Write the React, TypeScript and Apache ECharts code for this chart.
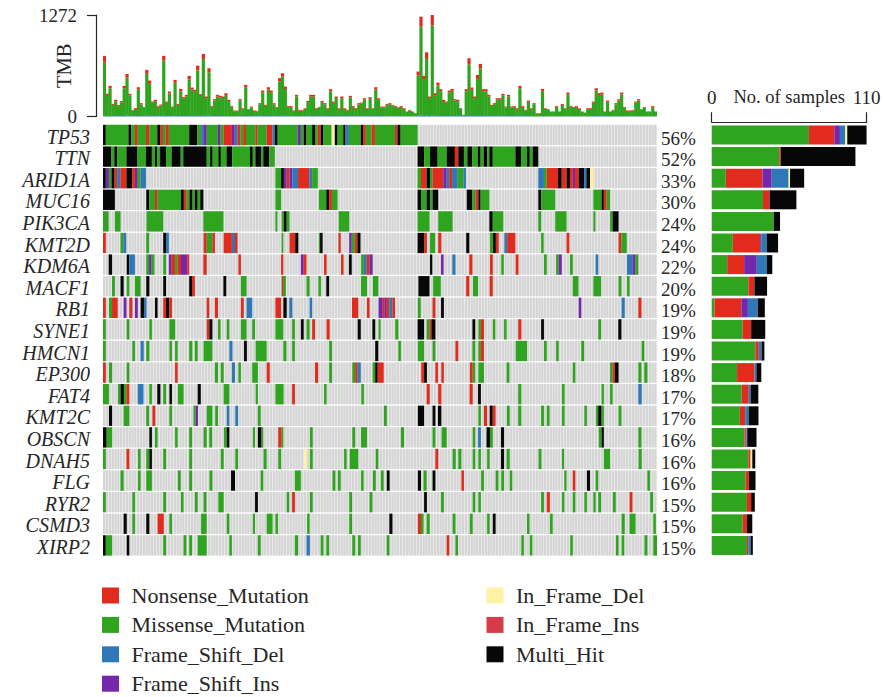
import React, { useEffect, useRef } from "react";
import * as echarts from "echarts";

const SERIF = '"Liberation Serif", "DejaVu Serif", serif';
const INK = "#262626";

const mutationTypes = ["Nonsense_Mutation", "Missense_Mutation", "Frame_Shift_Del", "Frame_Shift_Ins", "In_Frame_Del", "In_Frame_Ins", "Multi_Hit"];
const mutationColors = ["#e02b1d", "#2fa51f", "#2f78b7", "#7527ab", "#fff2a6", "#d53b4b", "#070707"];
const N = 0, M = 1, D = 2, I = 3, Y = 4, J = 5, K = 6;

const genes = ["TP53", "TTN", "ARID1A", "MUC16", "PIK3CA", "KMT2D", "KDM6A", "MACF1", "RB1", "SYNE1", "HMCN1", "EP300", "FAT4", "KMT2C", "OBSCN", "DNAH5", "FLG", "RYR2", "CSMD3", "XIRP2"];
const percents = ["56%", "52%", "33%", "30%", "24%", "24%", "22%", "20%", "19%", "19%", "19%", "18%", "17%", "17%", "16%", "16%", "16%", "15%", "15%", "15%"];
const sampleCount = 196;

const tmbTotal = [
  759, 284, 384, 158, 209, 142, 192, 384, 534, 284, 83, 104, 367, 167, 117, 584, 450, 188, 209, 133,
  150, 759, 188, 313, 125, 459, 158, 346, 242, 271, 509, 363, 334, 638, 279, 784, 250, 605, 133, 217,
  271, 259, 250, 292, 209, 133, 75, 75, 217, 104, 396, 92, 125, 75, 71, 167, 325, 146, 367, 325,
  167, 117, 480, 542, 375, 133, 133, 75, 271, 83, 83, 104, 196, 271, 271, 104, 117, 196, 167, 104,
  342, 188, 250, 104, 250, 104, 83, 259, 133, 104, 167, 175, 229, 104, 242, 104, 367, 229, 125, 125,
  158, 167, 146, 133, 117, 133, 104, 63, 83, 63, 42, 563, 1251, 509, 805, 250, 1272, 292, 425, 342,
  209, 188, 325, 346, 217, 209, 104, 21, 342, 730, 363, 250, 521, 659, 342, 342, 271, 146, 167, 229,
  229, 284, 125, 271, 125, 133, 104, 384, 133, 83, 200, 104, 167, 42, 42, 346, 104, 92, 63, 63,
  133, 63, 158, 104, 300, 133, 117, 133, 104, 63, 50, 104, 104, 188, 354, 292, 300, 63, 200, 63,
  83, 167, 217, 300, 117, 75, 75, 83, 188, 217, 92, 117, 63, 63, 133, 63,
];
const tmbNonsense = [
  85, 25, 30, 12, 16, 12, 14, 30, 48, 20, 8, 10, 30, 14, 10, 50, 40, 14, 16, 10,
  12, 60, 14, 24, 10, 36, 12, 28, 18, 20, 44, 26, 24, 60, 20, 65, 20, 50, 10, 16,
  20, 20, 18, 22, 16, 10, 8, 8, 16, 8, 34, 8, 10, 6, 6, 14, 26, 12, 30, 26,
  14, 10, 40, 42, 30, 10, 10, 6, 20, 6, 8, 8, 16, 22, 20, 8, 10, 16, 14, 8,
  28, 14, 20, 8, 20, 8, 6, 20, 10, 8, 14, 14, 18, 8, 20, 8, 30, 18,
  10, 10, 12, 12, 10, 10, 8, 10, 8, 5,
  6, 5, 4, 50, 125, 40, 85, 20, 130, 24,
  36, 24, 16, 14, 24, 26, 16, 16, 8, 3,
  26, 75, 28, 20, 50, 58, 26, 26, 20, 12,
  12, 18, 18, 22, 10, 20, 10, 10, 8, 30,
  10, 6, 16, 8, 12, 4, 4, 28, 8, 8,
  5, 5, 10, 5, 12, 8, 22, 10, 10, 10,
  8, 5, 4, 8, 8, 14, 28, 22, 24, 5,
  16, 5, 6, 14, 18, 24, 10, 6, 6, 6,
  14, 18, 8, 10, 5, 5, 10, 5,
];
const tmbFrameShift = [
  8, 5, 6, 4, 5, 4, 5, 7, 8, 5, 3, 4, 6, 4, 4, 8, 7, 4, 5, 4,
  4, 8, 5, 5, 4, 7, 4, 6, 5, 5, 7, 6, 6, 8, 5, 8, 5, 8, 4, 5,
  5, 5, 5, 5, 5, 4, 3, 3, 5, 4, 6, 3, 4, 3, 3, 4, 6, 4, 6, 6,
  4, 4, 7, 8, 6, 4, 4, 3, 5, 3, 3, 4, 5, 5, 5, 4, 4, 5, 4, 4,
  6, 5, 5, 4, 5, 4, 3, 5, 4, 4, 4, 4, 5, 4, 5, 4, 6, 5, 4, 4,
  4, 4, 4, 4, 4, 4, 4, 3, 3, 3, 2, 8, 10, 7, 9, 5, 10, 5, 7, 6,
  5, 5, 6, 6, 5, 5, 4, 2, 6, 8, 6, 5, 7, 8, 6, 6, 5, 4, 4, 5,
  5, 5, 4, 5, 4, 4, 4, 6, 4, 3, 5, 4, 4, 2, 2, 6, 4, 3, 3, 3,
  4, 3, 4, 4, 5, 4, 4, 4, 4, 3, 2, 4, 4, 5, 6, 5, 5, 3, 5, 3,
  3, 4, 5, 5, 4, 3, 3, 3, 5, 5, 3, 4, 3, 3, 4, 3,
];

// [first sample, end sample, mutation type] per gene
const tp53 = [[0,1,K],[1,9,M],[9,10,K],[10,11.3,M],[11.3,12.3,N],[12.3,15.2,M],[15.2,16.4,N],[16.4,19.2,M],[19.2,20.3,K],[20.3,21.2,N],[21.2,22.2,M],[22.2,23.3,N],[23.3,30.5,M],[30.5,33.4,K],[33.4,34.7,M],[34.7,35.5,D],[35.5,36.7,I],[36.7,40.6,M],[40.6,41.6,I],[41.6,42.7,M],[42.7,45.6,N],[45.6,46.6,I],[46.6,47.6,D],[47.6,48.6,N],[48.6,49.6,M],[49.6,50.6,N],[50.6,53.9,M],[53.9,54.7,N],[54.7,57.9,M],[57.9,59.9,N],[59.9,60.8,D],[60.8,61.8,K],[61.8,68.9,M],[68.9,70,I],[70,71,M],[71,72,K],[72,74,M],[74,75,K],[75,76,M],[76,77,N],[77,78,K],[78,80.9,M],[80.9,82,Y],[82,83,K],[83,85,M],[85,85.8,K],[85.8,87,D],[87,91.2,M],[91.2,92,K],[92,93,N],[93,95,M],[95,96.2,N],[96.2,103.3,M],[103.3,104.2,N],[104.2,105.3,K],[105.3,111.3,M]];
const ttn = [[0,3,K],[3,4,M],[4,5,K],[5,8.3,M],[8.3,12.2,K],[12.2,15.2,M],[15.2,17.3,K],[17.3,18.4,M],[18.4,19.2,K],[19.2,20.2,M],[20.2,22.3,K],[22.3,24.3,M],[24.3,27.5,K],[27.5,28.4,M],[28.4,36.7,K],[36.7,37.9,M],[37.9,38.8,K],[38.8,40.8,M],[40.8,41.7,K],[41.7,43.7,M],[43.7,45.7,K],[45.7,52,M],[52,53,K],[53,53.9,M],[53.9,55.9,K],[55.9,56.7,M],[56.7,58.8,K],[58.8,60.8,M],[111.3,113.6,K],[113.6,115.7,M],[115.7,118.4,K],[118.4,121.6,M],[121.6,124.5,K],[124.5,125.7,N],[125.7,127.7,K],[127.7,128.9,M],[128.9,130.7,K],[130.7,132.6,M],[132.6,133.6,K],[133.6,134.7,M],[134.7,136,K],[136,136.7,M],[136.7,137.9,K],[137.9,145.9,M],[145.9,147.9,K],[147.9,150,M],[150,151,K],[151,152,M],[152,154,K]];
const arid1a = [[0,1,K],[1,2.1,I],[2.1,3,M],[3,4.1,K],[4.1,5,N],[5,6.2,D],[6.2,8.3,N],[8.3,10.3,K],[10.3,11.3,N],[11.3,12.3,I],[12.3,13.3,M],[13.3,15.2,D],[61,63,M],[63,64,K],[64,65,I],[65,66,N],[66,67,I],[67,69,D],[69,73,N],[73,74,D],[74,76,M],[111.3,112.5,M],[112.5,114.5,N],[114.5,115.7,K],[115.7,116.6,M],[116.6,120.4,N],[120.4,121.6,I],[121.6,122.5,D],[122.5,123.5,N],[123.5,125.5,D],[125.5,127.5,M],[127.5,128.4,D],[154,156,D],[156,157,M],[157,161,N],[161,162.3,K],[162.3,164,N],[164,165.2,K],[165.2,166.2,N],[166.2,167,I],[167,168.3,N],[168.3,170.2,K],[170.2,171,D],[171,172.3,K],[172.3,173.5,Y]];
const muc16 = [[0,4.2,K],[15.3,16.4,K],[16.4,18.4,M],[18.4,19.3,N],[19.3,27.6,M],[27.6,28.6,K],[28.6,29.6,N],[29.6,30.6,M],[30.6,31.7,K],[31.7,32.5,M],[32.5,33.5,K],[33.5,34.4,M],[34.4,35.5,K],[61,63,M],[76.4,79,M],[79,80,K],[80,81,N],[81,83,M],[111.3,112.5,K],[112.5,114.5,M],[114.5,115.7,K],[115.7,116.6,M],[116.6,118.6,K],[128.7,130.7,K],[130.7,131.8,M],[131.8,132.8,N],[132.8,133.6,K],[133.6,136.7,M],[154,155,K],[155,160,M],[173.5,176.4,M],[176.4,177.2,K],[177.2,178.2,N],[178.2,179.4,M]];
const pik3ca = [[0,2,M],[4.2,6.2,M],[15.4,21.3,M],[35.5,42.6,M],[61,61.7,M],[63.2,64,M],[64,65,K],[65,66,M],[83.4,87.1,M],[111.3,115.5,M],[118.6,123.7,M],[136.7,137.9,K],[137.9,141.6,M],[154,155,M],[160,164,M],[173.5,174.2,M],[179.4,180.3,M],[180.3,182.4,K]];
const kmt2d = [[0,1,N],[6.2,7.2,M],[7.2,8.2,D],[15.3,16.3,M],[21.3,22.3,K],[22.3,23.3,D],[35.6,36.7,N],[36.7,38.7,M],[38.7,39.6,N],[42.7,45.6,N],[45.6,46.7,D],[46.7,47.6,N],[63.2,63.8,M],[66,68,N],[68,69.1,K],[76.4,76.8,M],[76.8,77.7,K],[83.3,84.1,N],[87.1,88,I],[88,89.1,M],[89.1,90,N],[90,91.1,K],[111.3,113.6,K],[113.6,114.6,N],[115.7,117.5,M],[118.6,119.7,N],[128.5,129.6,K],[136.9,138,M],[138,139,K],[139,140,N],[142,143,D],[143,145.9,N],[155,155.9,M],[164,165,N],[182.4,183.4,N],[183.4,185.3,M]];
const kdm6a = [[2,3.2,K],[8.4,9.3,K],[9.3,11.3,D],[15.3,16.3,M],[16.3,17.2,I],[17.2,18.2,M],[21.3,22.3,M],[23.3,24.3,I],[24.3,25.5,N],[25.5,26.4,M],[26.4,27.6,N],[27.6,29.8,I],[29.8,30.5,N],[35.5,36.7,N],[47.9,48.8,N],[63,63.8,N],[70,71,I],[71,72,N],[78.2,79.1,N],[84.2,85.1,N],[87,88,K],[91.3,92.3,M],[92.3,93.3,D],[93.3,94.3,N],[94.3,95.4,I],[115.7,116.5,K],[119.6,120.5,I],[123.6,124.7,D],[129.6,130.7,N],[136.9,137.9,N],[140.9,141.8,M],[146,147,N],[156,157,M],[160.3,161.2,M],[161.2,162.3,I],[165.2,166.2,M],[174.3,175.2,D],[185.4,187.4,D],[187.4,188.4,I],[188.4,189.4,M]];
const macf1 = [[3.2,4.2,M],[6.2,7.3,K],[8.4,9.3,M],[11.3,13.3,M],[15.3,16.4,K],[21.3,22.3,K],[30.5,31.5,K],[31.5,32.5,N],[42.6,43.6,K],[48.8,50.8,M],[63.2,63.7,N],[63.7,64.7,M],[72,73.1,M],[76.2,77.1,M],[79,80,K],[91.3,93.4,M],[95.5,97.4,M],[111.6,115.5,K],[116.8,119.5,M],[128.5,129.6,N],[130.9,132.7,M],[136.8,137.9,N],[166.2,168.2,M],[173.5,176.2,M],[182.4,183.4,M],[185.4,186.3,M]];
const rb1 = [[0,1,N],[2.1,3.2,M],[3.2,5.2,N],[7.3,8.3,I],[9.3,10.4,N],[11.3,12.3,I],[13.3,14.5,K],[14.5,15.4,D],[18.4,19.3,K],[21.3,22.3,N],[22.3,23.5,K],[23.5,24.4,N],[36.7,37.6,N],[39.6,40.7,N],[48.8,49.8,N],[50.8,52.8,D],[61,63,N],[63.8,65,K],[65.9,67,D],[73.1,74,D],[88.1,90.3,N],[93.4,94.3,N],[97.5,99,I],[99,99.7,N],[99.7,100.4,I],[100.4,101.3,N],[101.3,102.4,D],[102.4,103.3,N],[111.4,112.4,M],[116.6,117.6,N],[119.6,120.6,K],[168.3,169.2,I],[183.5,184.6,D],[189.4,190.5,N]];
const syne1 = [[0,1,M],[8.4,9.3,M],[16.4,17.3,M],[23.5,25.5,M],[36.7,37.6,N],[37.6,38.7,K],[40.7,41.6,M],[43.8,44.7,M],[48.8,50.8,M],[52.8,53.8,M],[61,63.8,M],[66.9,67.9,M],[70,71,K],[72,73.1,M],[74,75,N],[79.1,80.2,N],[90.1,91.2,K],[95.3,96.3,K],[97.5,98.2,M],[103.4,104.5,M],[111.3,113.6,K],[114.5,115.5,M],[115.5,116.2,N],[116.2,117.6,K],[130.7,131.7,K],[132.8,133.7,M],[133.7,134.8,N],[137.9,138.8,M],[141.9,142.8,M],[146.9,148,N],[155,156,K],[175.2,176.2,M],[182.3,183.4,K]];
const hmcn1 = [[0,1,M],[10.4,11.3,M],[13.3,14.4,D],[15.3,16.4,M],[23.5,24.4,M],[25.5,26.4,M],[30.5,31.6,M],[32.5,33.5,M],[35.6,38.7,M],[44.7,45.8,D],[49.9,50.9,K],[54,57.9,M],[63.8,64.9,M],[66.9,67.9,M],[80,81,M],[96.3,97.4,K],[104.5,105.4,M],[111.4,113.6,M],[116.6,117.6,M],[124.7,125.7,N],[130.7,131.7,M],[132.8,133.7,M],[133.7,134.8,N],[146,150,M],[156,157,M],[160.3,161.2,M],[169.2,170.2,M],[190.6,191.5,M]];
const ep300 = [[0,1,N],[2.1,3.2,M],[8.4,9.3,M],[25.5,26.4,N],[39.6,40.7,M],[41.7,42.7,M],[45.6,46.7,D],[47.9,48.8,M],[52.8,54.8,M],[57.9,59,N],[75,76.1,N],[80,81,M],[88.2,89.2,M],[89.2,90.1,N],[90.1,91.2,D],[95.4,96.3,M],[96.3,97.2,K],[97.2,99.3,N],[112.6,113.6,N],[113.6,114.6,K],[117.6,118.5,N],[119.7,120.6,N],[129.8,130.8,N],[130.8,131.7,M],[132.8,134.8,M],[142.8,143.8,M],[166.2,167.1,M],[179.4,180.3,M],[180.3,181.1,N],[181.1,182.4,K],[189.4,190.5,M],[191.5,192.6,M]];
const fat4 = [[0,2.1,M],[5.3,6.2,M],[6.2,7.4,K],[7.4,8.3,M],[8.3,9.3,N],[12.3,14.3,D],[16.4,17.3,M],[19.2,20.3,K],[21.3,22.3,M],[23.5,24.4,K],[26.5,28.5,M],[33.5,34.6,K],[42.7,44.7,M],[54,54.8,M],[61,63.9,M],[66.9,67.9,N],[78.2,79.1,M],[91.4,92.3,M],[114.5,115.6,N],[118.6,119.7,N],[129.7,130.8,N],[132.7,133.7,K],[146.9,148,M],[162.4,163.3,M],[176.4,177.2,M],[179.4,180.3,M],[189.4,190.6,D]];
const kmt2c = [[2.1,3.2,K],[7.3,9.3,M],[15.3,16.3,M],[17.5,18.5,N],[23.5,24.4,M],[32,32.8,M],[32.8,33.6,I],[36.7,38.7,M],[39.7,40.7,M],[43.8,44.7,D],[46.8,47.8,D],[54.8,55.8,M],[99.4,100.4,M],[111.4,113.6,K],[116.6,117.6,K],[118.5,119.7,K],[132.8,133.7,M],[134.8,135.9,N],[136.8,137.9,K],[137.9,138.9,N],[142.9,143.9,M],[146.9,148,M],[155,156,M],[157,158,M],[162.4,163.3,M],[170.3,171.2,M],[174.4,175.2,M],[175.2,176.4,K],[176.4,177.2,M],[182.4,183.4,M]];
const obscn = [[0,1.3,K],[1.3,3.2,M],[16.4,17.3,K],[18.4,19.3,M],[25.5,26.4,M],[30.5,31.5,M],[35.6,36.7,M],[37.6,38.6,M],[42.8,43.8,M],[43.8,44.7,K],[53,53.8,M],[54.8,56.1,K],[56.1,56.7,M],[62,63.2,N],[63.2,63.8,M],[73.2,74.2,M],[88.2,89.2,M],[91.3,93.4,M],[105.4,106.5,M],[116.6,117.6,M],[119.8,121.6,M],[130.8,131.7,M],[132.7,133.7,D],[135.7,136.9,K],[136.9,137.9,M],[140.8,141.9,K],[175.4,176.4,M],[176.4,177.2,K],[189.4,190.5,M]];
const dnah5 = [[0,1,M],[8.3,9.3,N],[12.4,13.3,M],[15.3,16.4,M],[16.4,17.3,K],[21.3,22.3,M],[30.5,31.5,M],[41.7,42.7,M],[46.8,47.8,M],[56.8,57.9,M],[62,63,M],[71.1,72.2,Y],[73.2,74.2,M],[85.3,86.2,M],[87.3,90.3,M],[96.5,97.4,M],[117.6,118.6,N],[123.7,124.8,M],[125.7,126.8,M],[130.8,131.7,M],[132.8,133.7,M],[135.9,136.8,M],[140.8,141.9,K],[142.8,143.9,M],[154.1,155.1,M],[162.4,163.1,M],[177.2,179.4,M],[189.5,190.6,M]];
const flg = [[6.2,7.3,M],[12.4,13.3,M],[15.3,17.3,M],[26.5,27.5,M],[30.5,31.5,M],[37.7,38.7,M],[45.3,46.7,K],[55.8,56.7,M],[67.9,70,M],[81.2,82.2,M],[83.1,84.1,M],[91.3,92.2,M],[95.5,96.5,M],[98.3,99.3,M],[100.4,101.4,K],[111.4,112.5,K],[113.4,114.5,M],[116.6,117.6,K],[126.8,127.7,N],[133.8,134.8,M],[138.9,139.9,M],[140.9,141.9,M],[143.9,144.8,M],[163.2,164,M],[166.2,167.1,N],[171.2,172.3,K],[174.3,175.2,M],[192.6,193.5,M]];
const ryr2 = [[0,1,M],[10.4,11.3,M],[21.3,22.3,M],[27.6,28.5,M],[32.5,33.5,M],[35.6,36.6,M],[40.8,42.7,M],[53.8,54.8,K],[65,65.9,M],[66.9,67.9,N],[73.2,74.2,M],[87.1,88.1,M],[94.3,95.3,M],[113.6,114.6,K],[119.6,120.6,M],[130.8,131.7,M],[132.8,133.7,M],[155,156,M],[157,158.1,N],[162.4,163.2,M],[166.2,167.1,M],[170.3,171.2,M],[173.5,174.3,M],[175.2,176.2,M],[180.4,181.4,M],[186.3,187.3,N],[193.6,194.6,M]];
const csmd3 = [[7.3,8.4,K],[10.4,11.3,M],[15.3,16.4,K],[19.3,21.5,N],[23.5,24.4,M],[34.7,36.7,M],[43.8,44.7,M],[53,53.8,M],[57.9,60,M],[61,61.9,M],[72.2,73.1,M],[87.1,88.1,M],[101.3,102.4,K],[111.4,112.5,N],[112.5,113.4,M],[114.5,115.6,M],[123.7,124.7,M],[129.8,130.8,M],[135.9,136.8,M],[137.9,138.9,K],[150,150.9,M],[158.1,159.1,M],[183.5,184.6,M],[186.3,188.4,M],[194.7,195.6,M]];
const xirp2 = [[0,1,K],[1,3.2,M],[8.4,9.3,K],[21.3,22.3,M],[28.5,29.5,M],[30.5,31.5,M],[33.5,36.7,M],[44.7,45.6,M],[54.8,55.8,M],[67.9,69,M],[72,73.2,D],[77,78,M],[79,80,M],[88.2,89.2,M],[90.2,91.2,M],[100.4,101.3,M],[121.6,122.5,N],[124.7,125.6,M],[148,148.9,M],[151,151.9,M],[165.3,166.2,M],[181.5,182.4,M],[183.5,184.4,M],[191.6,192.6,M],[194.7,196,M]];
const geneSegments = [tp53, ttn, arid1a, muc16, pik3ca, kmt2d, kdm6a, macf1, rb1, syne1, hmcn1, ep300, fat4, kmt2c, obscn, dnah5, flg, ryr2, csmd3, xirp2];

// number of samples per mutation class for each gene (right-hand bars)
const countMissense = [69, 48, 10, 36.4, 44, 15, 11, 26, 2, 22, 31, 18, 21.3, 20, 23.2, 26, 24, 25, 22, 25];
const countNonsense = [18, 1, 26, 4.7, 0, 19.4, 12, 4.3, 19, 6, 2.4, 12.3, 5, 3.8, 1, 1.6, 2.4, 3, 3, 1];
const countFsIns = [4, 0, 6.6, 0, 0, 0.7, 9, 0, 4.7, 0, 0, 0, 0, 0, 0.5, 0, 0, 0, 0, 0];
const countFsDel = [3.8, 0, 12, 0, 0, 4, 7, 0, 7, 0, 2, 1.4, 1.6, 2.4, 0.5, 0, 0, 0, 0, 1.6];
const countIfDel = [1.4, 0, 1, 0, 0, 0, 0, 0, 0, 0, 0, 0, 0, 0, 0, 1.2, 0, 0, 0, 0];
const countIfIns = [0, 0, 0, 0, 0, 0, 0, 0, 0, 0, 0, 0, 0, 0, 0, 0, 0, 0, 0, 0];
const countMulti = [13.7, 53, 10, 19, 4.5, 8, 4, 9, 5, 10, 2, 3.5, 5.2, 7, 6.6, 2.1, 4.7, 2.6, 3.8, 1.6];

const legendLeft = ["Nonsense_Mutation", "Missense_Mutation", "Frame_Shift_Del", "Frame_Shift_Ins"];
const legendRight = ["In_Frame_Del", "In_Frame_Ins", "Multi_Hit"];

const GRID_LEFT = 103;
const GRID_WIDTH = 554;
const MATRIX_TOP = 124.2;
const MATRIX_HEIGHT = 432;
const CELL_GAP = 1.3;

function buildOption() {
  const sampleLabels = tmbTotal.map((_, i) => String(i));
  const tmbMissense = tmbTotal.map((t, i) => Math.max(0, t - tmbNonsense[i] - tmbFrameShift[i]));

  const backgroundCells: number[][] = [];
  genes.forEach((_, row) => {
    for (let s = 0; s < sampleCount; s++) backgroundCells.push([s, s + 1, row]);
  });
  const segments: number[][] = [];
  geneSegments.forEach((list, row) => list.forEach(([a, b, t]) => segments.push([a, b, row, t])));

  const cellShape = (api: any) => {
    const start = api.coord([api.value(0), api.value(2)]);
    const end = api.coord([api.value(1), api.value(2)]);
    const h = api.size([0, 1])[1] - CELL_GAP;
    return { x: start[0], y: start[1] - h / 2, width: end[0] - start[0], height: h };
  };

  const rightBar = (idx: number, values: number[]) => ({
    name: mutationTypes[idx],
    type: "bar",
    stack: "samples",
    xAxisIndex: 2,
    yAxisIndex: 3,
    barWidth: 19,
    itemStyle: { color: mutationColors[idx] },
    data: values,
    silent: true,
  });
  const tmbBar = (idx: number, values: number[]) => ({
    name: mutationTypes[idx],
    type: "bar",
    stack: "tmb",
    xAxisIndex: 0,
    yAxisIndex: 0,
    barWidth: 3.2,
    itemStyle: { color: mutationColors[idx] },
    data: values,
    silent: true,
  });
  const legendBase = {
    orient: "vertical",
    selectedMode: false,
    icon: "rect",
    padding: 0,
    itemWidth: 17,
    itemHeight: 16,
    itemGap: 7.4,
    textStyle: { fontFamily: SERIF, fontSize: 22, color: INK, padding: [0, 0, 0, 7.5] },
  };

  return {
    animation: false,
    backgroundColor: "#ffffff",
    textStyle: { fontFamily: SERIF },
    legend: [
      { ...legendBase, left: 102, top: 584.5, data: legendLeft },
      { ...legendBase, left: 486.5, top: 584.5, data: legendRight },
    ],
    grid: [
      { left: GRID_LEFT, width: GRID_WIDTH, top: 15, height: 101.5 },
      { left: GRID_LEFT, width: GRID_WIDTH, top: MATRIX_TOP, height: MATRIX_HEIGHT },
      { left: 711.7, width: 155, top: MATRIX_TOP, height: MATRIX_HEIGHT },
      { left: GRID_LEFT, width: GRID_WIDTH, top: MATRIX_TOP + 3, height: MATRIX_HEIGHT },
      { left: GRID_LEFT, width: GRID_WIDTH, top: MATRIX_TOP + 1.5, height: MATRIX_HEIGHT },
    ],
    xAxis: [
      { type: "category", gridIndex: 0, data: sampleLabels, show: false, boundaryGap: true },
      { type: "value", gridIndex: 1, min: 0, max: sampleCount, show: false },
      {
        type: "value",
        gridIndex: 2,
        position: "top",
        offset: 2,
        min: 0,
        max: 110,
        interval: 110,
        splitLine: { show: false },
        axisLine: { show: true, lineStyle: { color: INK, width: 1.2 } },
        axisTick: { show: true, length: 10, inside: false, lineStyle: { color: INK, width: 1.2 } },
        axisLabel: { show: true, margin: 15, fontFamily: SERIF, fontSize: 19, color: INK },
        name: "No. of samples",
        nameLocation: "middle",
        nameGap: 16,
        nameMoveOverlap: false,
        nameTextStyle: { fontFamily: SERIF, fontSize: 18.5, color: INK },
      },
      { type: "value", gridIndex: 3, min: 0, max: sampleCount, show: false },
      { type: "value", gridIndex: 4, min: 0, max: sampleCount, show: false },
    ],
    yAxis: [
      {
        type: "value",
        gridIndex: 0,
        min: 0,
        max: 1272,
        interval: 1272,
        offset: 7,
        splitLine: { show: false },
        axisLine: { show: true, lineStyle: { color: INK, width: 1.2 } },
        axisTick: { show: true, length: 9, lineStyle: { color: INK, width: 1.2 } },
        axisLabel: { margin: 19, fontFamily: SERIF, fontSize: 19, color: INK, formatter: (v: number) => String(v) },
        name: "TMB",
        nameLocation: "middle",
        nameGap: 22,
        nameRotate: 90,
        nameMoveOverlap: false,
        nameTextStyle: { fontFamily: SERIF, fontSize: 20.5, color: INK },
      },
      { type: "category", gridIndex: 1, inverse: true, data: genes, show: false },
      {
        type: "category",
        gridIndex: 3,
        position: "right",
        inverse: true,
        data: percents,
        axisLine: { show: false },
        axisTick: { show: false },
        axisLabel: { margin: 4, interval: 0, fontFamily: SERIF, fontSize: 19, color: INK },
      },
      { type: "category", gridIndex: 2, inverse: true, data: genes, show: false },
      {
        type: "category",
        gridIndex: 4,
        inverse: true,
        data: genes,
        axisLine: { show: false },
        axisTick: { show: false },
        axisLabel: {
          margin: 13,
          interval: 0,
          fontFamily: SERIF,
          fontStyle: "italic",
          fontSize: 20,
          color: INK,
        },
      },
    ],
    series: [
      tmbBar(2, tmbFrameShift),
      tmbBar(1, tmbMissense),
      tmbBar(0, tmbNonsense),
      {
        type: "custom",
        name: "background",
        xAxisIndex: 1,
        yAxisIndex: 1,
        silent: true,
        encode: { x: [0, 1], y: 2 },
        data: backgroundCells,
        renderItem: (_: any, api: any) => {
          const s = cellShape(api);
          return { type: "rect", shape: { ...s, width: s.width - 0.35 }, style: { fill: "#d5d5d5" } };
        },
      },
      {
        type: "custom",
        name: "mutations",
        xAxisIndex: 1,
        yAxisIndex: 1,
        silent: true,
        encode: { x: [0, 1], y: 2 },
        data: segments,
        renderItem: (_: any, api: any) => ({
          type: "rect",
          shape: cellShape(api),
          style: { fill: mutationColors[api.value(3)] },
        }),
      },
      rightBar(1, countMissense),
      rightBar(0, countNonsense),
      rightBar(3, countFsIns),
      rightBar(2, countFsDel),
      rightBar(4, countIfDel),
      rightBar(5, countIfIns),
      rightBar(6, countMulti),
    ],
  };
}

export default function App() {
  const ref = useRef<HTMLDivElement>(null);
  useEffect(() => {
    const chart = echarts.init(ref.current!, undefined, { renderer: "svg" });
    chart.setOption(buildOption() as any);
    return () => chart.dispose();
  }, []);
  return <div ref={ref} style={{ position: "absolute", left: 0, top: 0, width: 884, height: 697 }} />;
}
